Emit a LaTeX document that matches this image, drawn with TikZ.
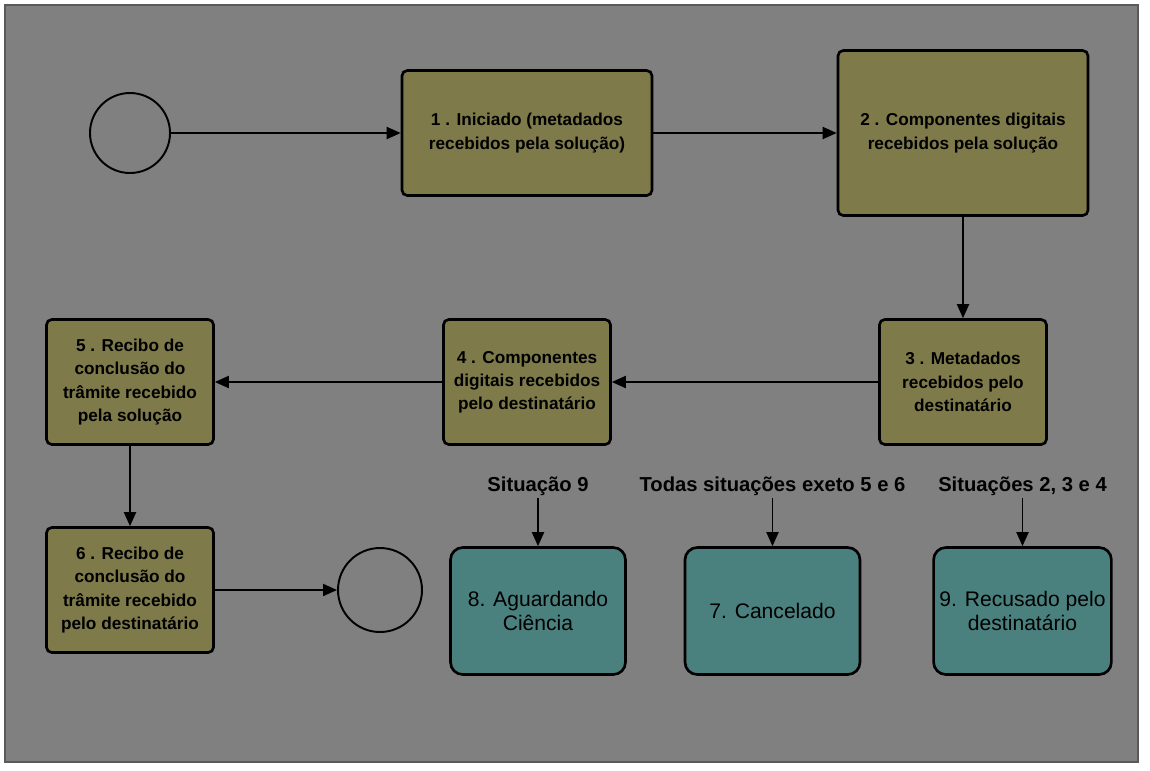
\documentclass[tikz,border=0pt]{standalone}
\usepackage{fontspec}
\setmainfont{Liberation Sans}
\usetikzlibrary{arrows.meta, positioning}
\definecolor{fundo}{RGB}{128,128,128}
\definecolor{oliva}{RGB}{126,122,74}
\definecolor{verdeagua}{RGB}{74,128,126}
\tikzstyle{etapa} = [rectangle, rounded corners=3pt, minimum width=3.34cm, minimum height=2.5cm, align=center, draw=black, line width=1.5pt, fill=oliva, font=\fontsize{9.8}{13.2}\selectfont\bfseries]
\tikzstyle{situacao} = [rectangle, rounded corners=7pt, minimum width=3.5cm, minimum height=2.54cm, align=center, draw=black, line width=1.5pt, fill=verdeagua, font=\fontsize{12}{14}\selectfont]
\tikzstyle{evento} = [circle, draw=black, line width=1.1pt, inner sep=0pt]
\tikzstyle{rotulo} = [inner sep=1pt, font=\fontsize{11.5}{13}\selectfont\bfseries]
\tikzstyle{connector} = [line width=1.1pt, -{Triangle[length=0.28cm, width=0.24cm]}]

\begin{document}
\begin{tikzpicture}

  % Frame
  \useasboundingbox (0,0) rectangle (23,-15.4);
  \draw[fill=fundo, draw=fundo!70!black, line width=1.2pt] (0.1,-0.1) rectangle (22.76,-15.24);

  % Top row
  \node (inicio) at (2.6,-2.66) [evento, minimum size=1.6cm] {};
  \node (iniciado) at (10.54,-2.66) [etapa, minimum width=5cm] {1 . Iniciado (metadados\\recebidos pela solução)};
  \node (componentes) at (19.26,-2.66) [etapa, minimum width=5cm, minimum height=3.3cm] {2 . Componentes digitais\\recebidos pela solução};

  % Middle row
  \node (metadados) at (19.26,-7.64) [etapa] {3 . Metadados\\recebidos pelo\\destinatário};
  \node (compdest) at (10.54,-7.64) [etapa] {4 . Componentes\\digitais recebidos\\pelo destinatário};
  \node (recibosol) at (2.6,-7.64) [etapa] {5 . Recibo de\\conclusão do\\trâmite recebido\\pela solução};

  % Bottom row
  \node (recibodest) at (2.6,-11.8) [etapa] {6 . Recibo de\\conclusão do\\trâmite recebido\\pelo destinatário};
  \node (fim) at (7.6,-11.8) [evento, minimum size=1.68cm] {};

  % Situations
  \node (aguardando) at (10.76,-12.22) [situacao] {8. Aguardando\\Ciência};
  \node (cancelado) at (15.45,-12.22) [situacao] {7. Cancelado};
  \node (recusado) at (20.45,-12.22) [situacao] {9. Recusado pelo\\destinatário};
  \node (sit9) at (10.76,-9.72) [rotulo] {Situação 9};
  \node (todas) at (15.45,-9.72) [rotulo] {Todas situações exeto 5 e 6};
  \node (sit234) at (20.45,-9.72) [rotulo] {Situações 2, 3 e 4};

  % Arrows of the flow
  \draw[connector] (inicio) -- (iniciado);
  \draw[connector] (iniciado) -- (componentes);
  \draw[connector] (componentes) -- (metadados);
  \draw[connector] (metadados) -- (compdest);
  \draw[connector] (compdest) -- (recibosol);
  \draw[connector] (recibosol) -- (recibodest);
  \draw[connector] (recibodest) -- (fim);

  % Arrows of the situations
  \draw[connector] (sit9) -- (aguardando);
  \draw[connector] (todas) -- (cancelado);
  \draw[connector] (sit234) -- (recusado);

\end{tikzpicture}
\end{document}
